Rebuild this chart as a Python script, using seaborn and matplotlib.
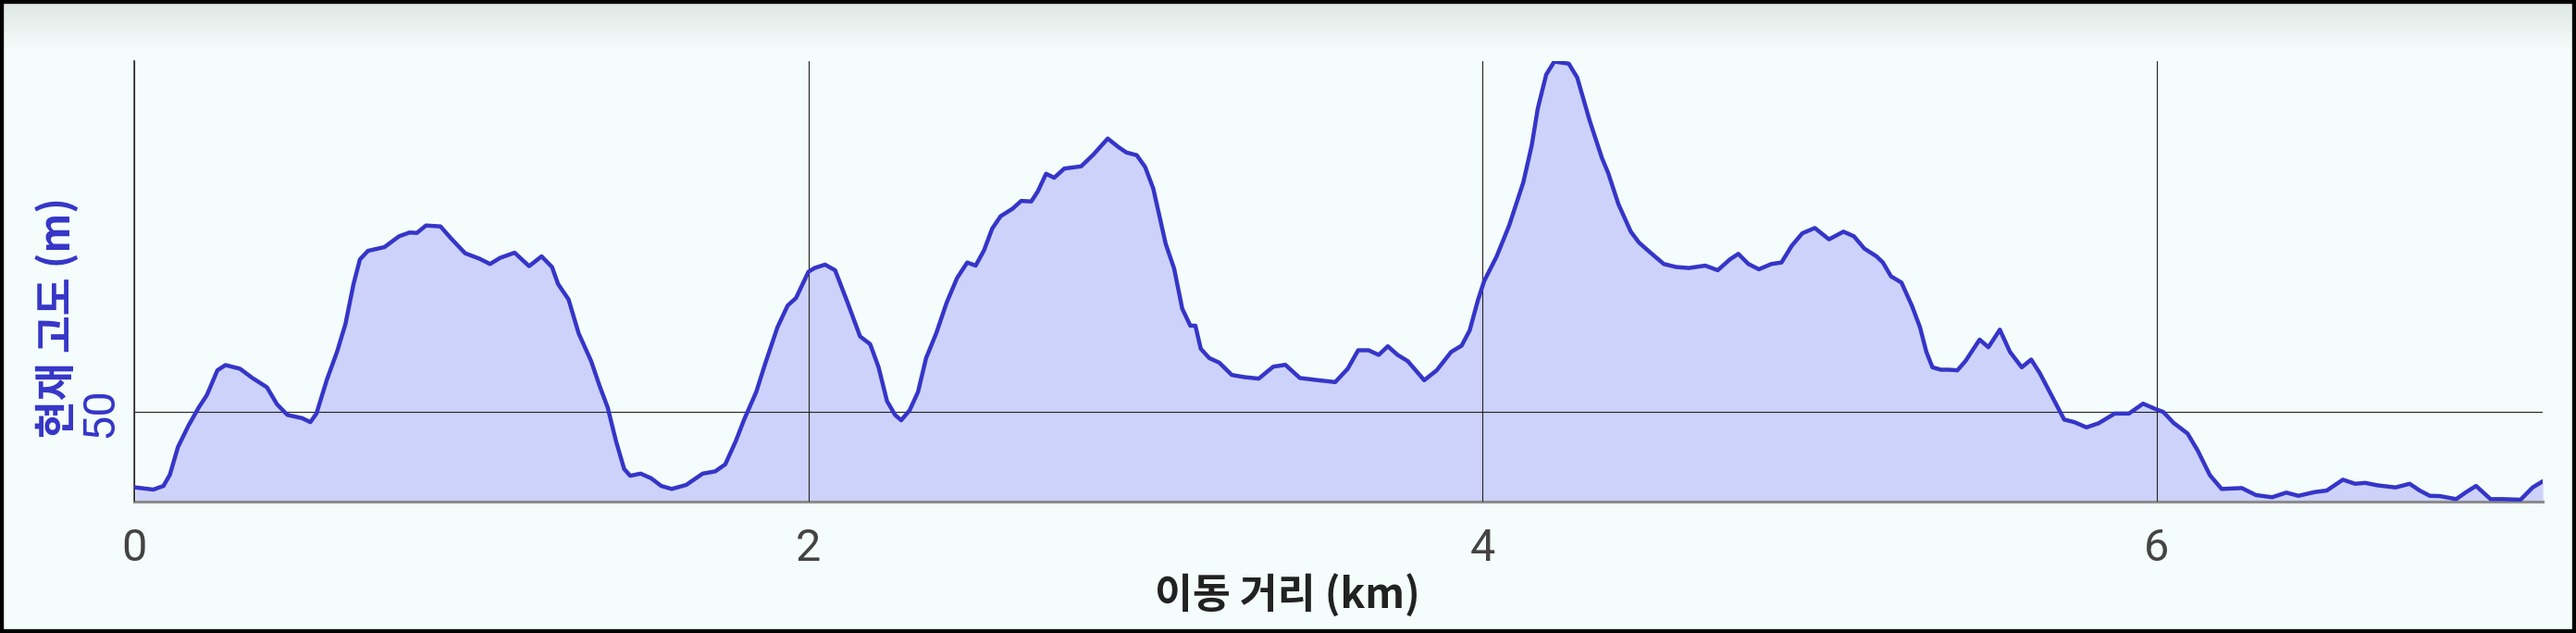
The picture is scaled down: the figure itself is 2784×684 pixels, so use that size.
import numpy as np
import pandas as pd
import matplotlib
matplotlib.use('Agg')
import matplotlib.pyplot as plt
from matplotlib.patches import Rectangle
import seaborn as sns

# 고도 프로파일
distance_km = [
    0.003, 0.056, 0.086, 0.105, 0.129, 0.160, 0.191, 0.215, 0.246, 0.270,
    0.313, 0.350, 0.393, 0.423, 0.454, 0.497, 0.522, 0.540, 0.571, 0.601,
    0.626, 0.650, 0.669, 0.693, 0.742, 0.785, 0.816, 0.838, 0.865, 0.908,
    0.938, 0.981, 1.024, 1.055, 1.085, 1.128, 1.171, 1.208, 1.239, 1.257,
    1.288, 1.318, 1.355, 1.380, 1.404, 1.429, 1.453, 1.471, 1.502, 1.533,
    1.563, 1.594, 1.637, 1.686, 1.723, 1.753, 1.784, 1.809, 1.845,
    1.871, 1.908, 1.938, 1.963, 2.000, 2.018, 2.049, 2.079, 2.116, 2.153,
    2.183, 2.208, 2.233, 2.257, 2.275, 2.300, 2.325, 2.349, 2.379, 2.410,
    2.441, 2.471, 2.496, 2.521, 2.545, 2.570, 2.606, 2.631, 2.661, 2.680,
    2.705, 2.729, 2.759, 2.809, 2.845, 2.888, 2.919, 2.943, 2.974, 2.999,
    3.023, 3.060, 3.085, 3.109, 3.133, 3.148, 3.164, 3.189, 3.219, 3.256,
    3.293, 3.336, 3.379, 3.415, 3.458, 3.513, 3.563,
    3.600, 3.631, 3.662, 3.692, 3.719, 3.748, 3.778, 3.827, 3.864, 3.907,
    3.938, 3.962, 3.987, 4.005, 4.042, 4.079, 4.121, 4.146, 4.164, 4.189,
    4.213, 4.256, 4.281, 4.318, 4.354, 4.373, 4.403, 4.440, 4.464, 4.495,
    4.538, 4.575, 4.612, 4.661, 4.698, 4.734, 4.759, 4.789, 4.820, 4.857,
    4.887, 4.918, 4.949, 4.986, 5.028, 5.071, 5.102, 5.133, 5.169, 5.188,
    5.212, 5.243, 5.274, 5.298, 5.317, 5.335, 5.360, 5.384,
    5.409, 5.433, 5.475, 5.501, 5.535, 5.565, 5.600, 5.628, 5.654, 5.690,
    5.726, 5.756, 5.792, 5.828, 5.876, 5.918, 5.960, 5.996, 6.020, 6.050,
    6.092, 6.122, 6.158, 6.193, 6.253, 6.295, 6.343, 6.385, 6.421, 6.469,
    6.505, 6.553, 6.589, 6.619, 6.655, 6.709, 6.751, 6.781, 6.811, 6.841,
    6.889, 6.919, 6.948, 6.991, 7.026, 7.080, 7.116, 7.146,
]
elevation_m = [
    41.56, 41.32, 41.73, 42.98, 46.09, 48.48, 50.55, 51.93, 54.70, 55.29,
    54.88, 53.84, 52.80, 50.89, 49.69, 49.34, 48.89, 49.85, 53.66, 56.77,
    59.89, 64.38, 67.15, 68.11, 68.53, 69.74, 70.16, 70.12, 70.95, 70.85,
    69.56, 67.84, 67.22, 66.63, 67.32, 67.90, 66.39, 67.49, 66.29, 64.38,
    62.66, 58.85, 55.74, 52.97, 50.55, 46.74, 43.63, 42.87, 43.11, 42.59,
    41.73, 41.39, 41.84, 43.11, 43.36, 44.15, 46.74, 49.17, 52.28,
    55.39, 59.54, 61.96, 62.82, 65.77, 66.18, 66.56, 65.93, 62.30, 58.51,
    57.64, 55.04, 51.24, 49.69, 49.10, 50.21, 52.28, 56.08, 58.85, 62.30,
    65.07, 66.80, 66.45, 68.18, 70.60, 71.99, 72.85, 73.71, 73.65, 74.75,
    76.76, 76.31, 77.34, 77.59, 78.90, 80.71, 79.77, 79.15, 78.84, 77.52,
    75.10, 68.88, 66.11, 61.62, 59.71, 59.71, 57.12, 56.08, 55.56, 54.18,
    53.94, 53.77, 55.11, 55.32, 53.84, 53.59, 53.38,
    54.88, 56.95, 56.95, 56.43, 57.40, 56.43, 55.74, 53.59, 54.70, 56.77,
    57.47, 59.19, 62.66, 64.73, 67.49, 70.95, 75.79, 79.94, 84.09, 87.89,
    89.35, 89.11, 87.55, 82.71, 78.56, 76.83, 73.37, 70.26, 69.05, 68.01,
    66.63, 66.29, 66.18, 66.45, 65.93, 67.15, 67.77, 66.63, 66.04, 66.63,
    66.80, 68.70, 70.08, 70.67, 69.40, 70.26, 69.74, 68.36, 67.49, 66.80,
    65.25, 64.55, 61.96, 59.54, 56.77, 55.04, 54.77, 54.77,
    54.70, 55.74, 58.15, 57.29, 59.26, 56.77, 55.04, 55.91, 54.36, 51.76,
    49.17, 48.89, 48.30, 48.76, 49.85, 49.85, 50.96, 50.37, 50.03, 48.82,
    47.61, 45.71, 42.95, 41.39, 41.49, 40.70, 40.46, 40.98, 40.62, 41.04,
    41.21, 42.43, 41.97, 42.07, 41.80, 41.56, 41.97, 41.21, 40.62, 40.59,
    40.25, 41.04, 41.73, 40.25, 40.25, 40.18, 41.56, 42.25,
]
x_ticks = [0, 2, 4, 6]
x_tick_labels = ['0', '2', '4', '6']
y_ticks = [50]
y_tick_labels = ['50']
x_label = '이동 거리 (km)'
y_label = '현재 고도 (m)'

LINE_COLOR = '#3535c8'
FILL_COLOR = '#cdd2fa'
BG_COLOR = '#f4fdfb'

sns.set_theme(style='white')
plt.rcParams['font.family'] = ['Noto Sans CJK KR', 'DejaVu Sans']

df = pd.DataFrame({'distance': distance_km, 'elevation': elevation_m})
y_min, y_max = 40, 89.4

fig = plt.figure(figsize=(27.84, 6.84), dpi=100, facecolor=BG_COLOR)

# 위쪽 그림자
shade = fig.add_axes([0, 0.92, 1, 0.08], zorder=-5)
alpha = np.linspace(0, 0.13, 50).reshape(-1, 1)
rgba = np.zeros((50, 1, 4))
rgba[..., :3] = 0.3
rgba[..., 3] = alpha
shade.imshow(rgba, aspect='auto', extent=[0, 1, 0, 1], origin='lower')
shade.axis('off')

ax = fig.add_axes([0.0522, 0.208, 0.9349, 0.6955])
ax.set_facecolor(BG_COLOR)
ax.fill_between(df['distance'], df['elevation'], y_min, color=FILL_COLOR, lw=0, zorder=1)
sns.lineplot(data=df, x='distance', y='elevation', ax=ax, color=LINE_COLOR,
             linewidth=3.2, zorder=3, solid_joinstyle='round', solid_capstyle='round')

ax.set_xlim(0, df['distance'].max())
ax.set_ylim(y_min, y_max)
ax.set_xticks(x_ticks)
ax.set_xticklabels(x_tick_labels, fontfamily='Roboto')
ax.set_yticks(y_ticks)
ax.set_yticklabels(y_tick_labels, fontfamily='Roboto')
ax.set_xlabel('')
ax.set_ylabel('')

ax.set_axisbelow(False)
ax.grid(True, color='#222222', linewidth=0.8)
for side in ['top', 'right']:
    ax.spines[side].set_visible(False)
ax.spines['left'].set_color('#6b6b6b')
ax.spines['left'].set_linewidth(1.5)
ax.spines['bottom'].set_color('#8c8c8c')
ax.spines['bottom'].set_linewidth(2.2)

ax.tick_params(axis='x', length=12, width=0.8, color='#777777', pad=8,
               labelsize=35, labelcolor='#444444')
ax.tick_params(axis='y', length=6, width=0.8, color='#222222', pad=4,
               labelsize=35, labelcolor=LINE_COLOR, labelrotation=90)
for lab in ax.get_yticklabels():
    lab.set_va('center')

fig.text(1391 / 2784, 1 - 643 / 684, x_label, ha='center', va='center',
         fontsize=32, fontweight='bold', color='#222222')
fig.text(62.5 / 2784, 1 - 343 / 684, y_label, ha='center', va='center', rotation=90,
         fontsize=32, fontweight='bold', color=LINE_COLOR)

fig.patches.append(Rectangle((0, 0), 1, 1, transform=fig.transFigure, fill=False,
                             edgecolor='black', linewidth=6, zorder=10))

fig.savefig('out.png', dpi=100, facecolor=fig.get_facecolor())
